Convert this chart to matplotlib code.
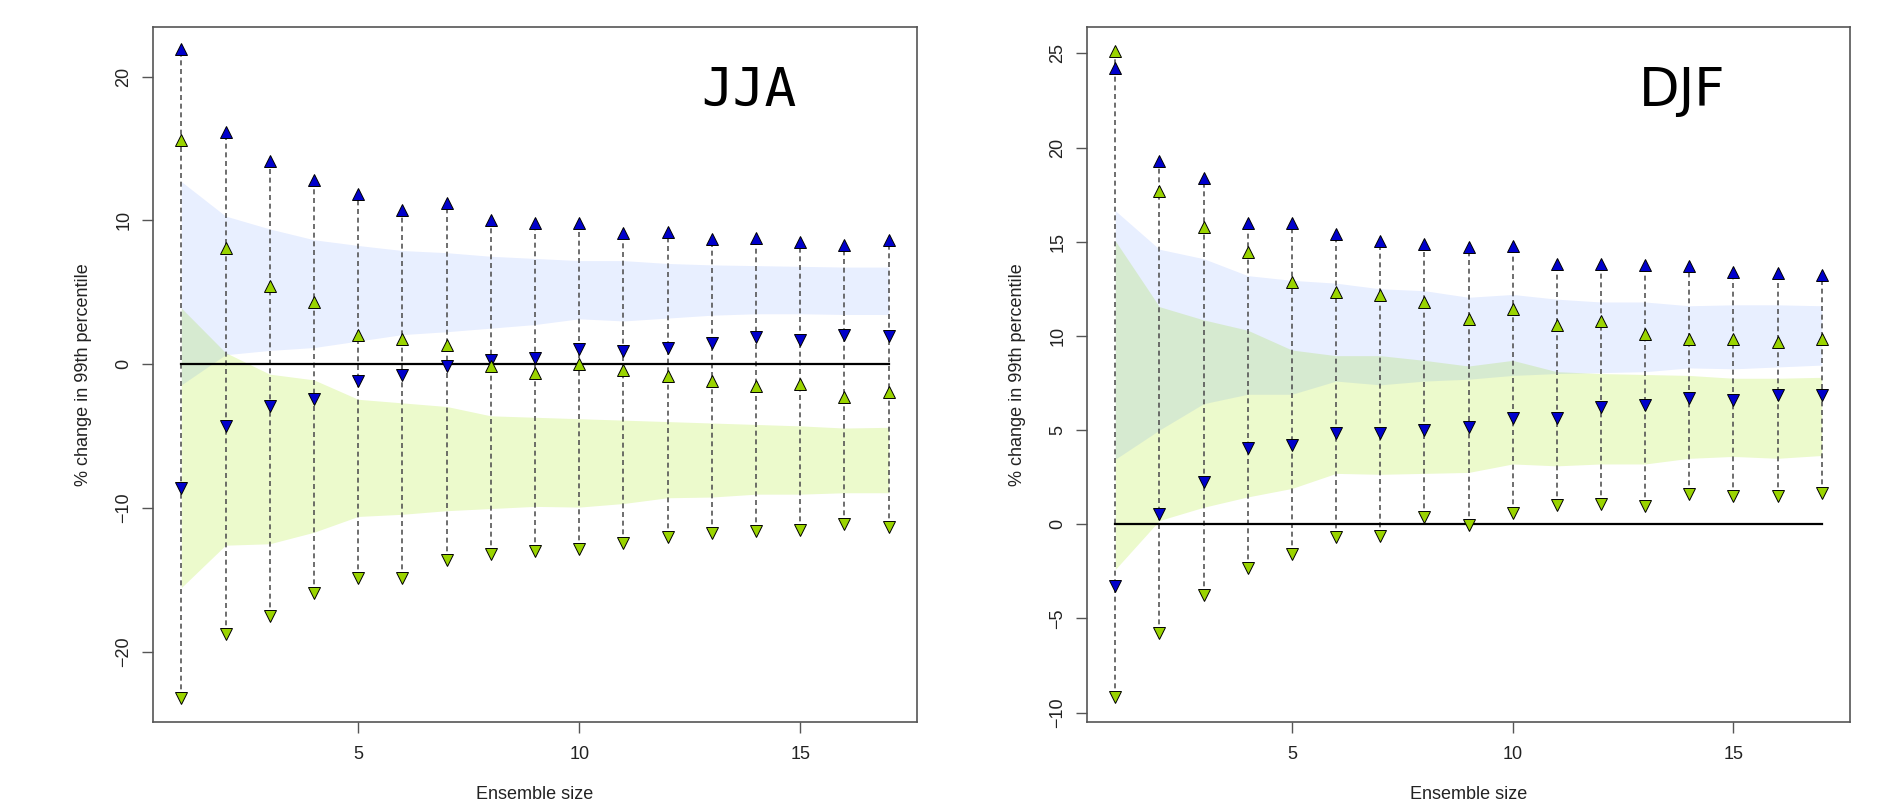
import matplotlib
matplotlib.use('Agg')
import matplotlib.pyplot as plt
import numpy as np

# размер ансамбля
ens_size = np.arange(1, 18)

# JJA: экстремумы (треугольники вверх / вниз)
jja_blue_hi = [21.9, 16.15, 14.1, 12.8, 11.8, 10.7, 11.2, 10.0, 9.8, 9.8, 9.1, 9.2, 8.7, 8.8, 8.5, 8.3, 8.6]
jja_blue_lo = [-8.6, -4.3, -2.9, -2.4, -1.2, -0.75, -0.1, 0.3, 0.4, 1.05, 0.9, 1.1, 1.5, 1.9, 1.65, 2.0, 1.95]
jja_green_hi = [15.6, 8.1, 5.4, 4.3, 2.05, 1.75, 1.35, -0.1, -0.6, 0.0, -0.4, -0.85, -1.2, -1.55, -1.4, -2.3, -1.95]
jja_green_lo = [-23.2, -18.8, -17.5, -15.9, -14.9, -14.85, -13.6, -13.2, -13.0, -12.85, -12.45, -12.0, -11.75, -11.6, -11.55, -11.1, -11.3]

# JJA: полосы
jja_blue_band_hi = [12.7, 10.3, 9.4, 8.65, 8.25, 7.9, 7.75, 7.5, 7.35, 7.2, 7.2, 7.0, 6.9, 6.85, 6.8, 6.75, 6.75]
jja_blue_band_lo = [-1.45, 0.65, 0.95, 1.15, 1.6, 2.05, 2.25, 2.5, 2.75, 3.15, 3.0, 3.2, 3.4, 3.5, 3.5, 3.45, 3.45]
jja_green_band_hi = [3.9, 0.8, -0.7, -1.1, -2.45, -2.7, -2.95, -3.6, -3.7, -3.8, -3.9, -4.0, -4.1, -4.2, -4.3, -4.45, -4.4]
jja_green_band_lo = [-15.55, -12.6, -12.5, -11.7, -10.6, -10.45, -10.2, -10.05, -9.9, -9.95, -9.7, -9.3, -9.25, -9.05, -9.05, -8.95, -8.95]

# DJF: экстремумы
djf_blue_hi = [24.2, 19.3, 18.4, 16.0, 16.0, 15.4, 15.05, 14.9, 14.7, 14.75, 13.8, 13.8, 13.75, 13.7, 13.4, 13.35, 13.25]
djf_blue_lo = [-3.3, 0.55, 2.25, 4.05, 4.2, 4.85, 4.85, 5.0, 5.15, 5.65, 5.65, 6.2, 6.35, 6.7, 6.6, 6.85, 6.85]
djf_green_hi = [25.1, 17.7, 15.8, 14.45, 12.85, 12.35, 12.15, 11.8, 10.9, 11.45, 10.6, 10.8, 10.1, 9.85, 9.85, 9.7, 9.85]
djf_green_lo = [-9.15, -5.75, -3.75, -2.35, -1.6, -0.7, -0.6, 0.4, -0.05, 0.6, 1.0, 1.05, 0.95, 1.6, 1.5, 1.5, 1.65]

# DJF: полосы
djf_blue_band_hi = [16.65, 14.6, 14.1, 13.2, 12.95, 12.8, 12.5, 12.4, 12.05, 12.2, 11.95, 11.8, 11.8, 11.6, 11.65, 11.65, 11.6]
djf_blue_band_lo = [3.45, 5.0, 6.4, 6.9, 6.9, 7.6, 7.4, 7.6, 7.7, 7.9, 8.0, 8.05, 8.1, 8.3, 8.25, 8.35, 8.45]
djf_green_band_hi = [15.05, 11.55, 10.85, 10.3, 9.25, 8.95, 8.95, 8.7, 8.4, 8.7, 8.1, 8.0, 7.95, 7.9, 7.75, 7.75, 7.8]
djf_green_band_lo = [-2.4, 0.2, 0.9, 1.45, 1.9, 2.7, 2.65, 2.7, 2.75, 3.2, 3.1, 3.2, 3.2, 3.5, 3.6, 3.5, 3.65]

BLUE = '#0000cc'
GREEN = '#9ad400'


def draw_panel(ax, blue_hi, blue_lo, green_hi, green_lo,
               bb_hi, bb_lo, gb_hi, gb_lo, ylim, yticks, title, title_font):
    """Рисует одну панель: полосы, пунктир, треугольники"""
    ax.fill_between(ens_size, gb_lo, gb_hi, color=(0.63, 0.9, 0.0), alpha=0.2, lw=0)
    ax.fill_between(ens_size, bb_lo, bb_hi, color=(0.0, 0.31, 1.0), alpha=0.09, lw=0)

    ax.plot([1, 17], [0, 0], color='black', lw=1.6, zorder=3)

    # одна пунктирная линия на каждый размер ансамбля
    top = np.maximum(blue_hi, green_hi)
    bottom = np.minimum(blue_lo, green_lo)
    ax.vlines(ens_size, bottom, top, colors='#555555', linestyles=(0, (3, 2.2)), lw=1.2, zorder=2)

    mk = dict(ls='none', ms=9, mec='black', mew=0.7, zorder=4)
    ax.plot(ens_size, blue_hi, marker='^', mfc=BLUE, **mk)
    ax.plot(ens_size, blue_lo, marker='v', mfc=BLUE, **mk)
    ax.plot(ens_size, green_hi, marker='^', mfc=GREEN, **mk)
    ax.plot(ens_size, green_lo, marker='v', mfc=GREEN, **mk)

    ax.set_xlim(0.36, 17.64)
    ax.set_ylim(*ylim)
    ax.set_xticks([5, 10, 15])
    ax.set_yticks(yticks)
    for lbl in ax.get_yticklabels():
        lbl.set_rotation(90)
        lbl.set_va('center')

    for sp in ax.spines.values():
        sp.set_color('#555555')
        sp.set_linewidth(1.2)
    ax.tick_params(direction='out', length=8, width=1.0, color='#555555',
                   labelsize=13, labelcolor='#222222')
    ax.tick_params(axis='x', pad=9)
    ax.tick_params(axis='y', pad=7)

    ax.set_xlabel('Ensemble size', fontsize=13, color='#222222', labelpad=17)
    ax.set_ylabel('% change in 99th percentile', fontsize=13, color='#222222', labelpad=17)

    ax.text(0.78, 0.908, title, transform=ax.transAxes, ha='center', va='center',
            fontsize=38, family=title_font, color='black')


plt.rcParams['font.family'] = ['Liberation Sans', 'DejaVu Sans']

fig = plt.figure(figsize=(18.9, 8.09), dpi=100)
ax1 = fig.add_axes([153 / 1890, 87 / 809, 764 / 1890, 695 / 809])
ax2 = fig.add_axes([1087 / 1890, 87 / 809, 763 / 1890, 695 / 809])

draw_panel(ax1, jja_blue_hi, jja_blue_lo, jja_green_hi, jja_green_lo,
           jja_blue_band_hi, jja_blue_band_lo, jja_green_band_hi, jja_green_band_lo,
           (-24.9, 23.45), [-20, -10, 0, 10, 20], 'JJA', 'DejaVu Sans Mono')
draw_panel(ax2, djf_blue_hi, djf_blue_lo, djf_green_hi, djf_green_lo,
           djf_blue_band_hi, djf_blue_band_lo, djf_green_band_hi, djf_green_band_lo,
           (-10.5, 26.4), [-10, -5, 0, 5, 10, 15, 20, 25], 'DJF', 'DejaVu Sans')

fig.savefig('out.png', dpi=100, facecolor='white')
